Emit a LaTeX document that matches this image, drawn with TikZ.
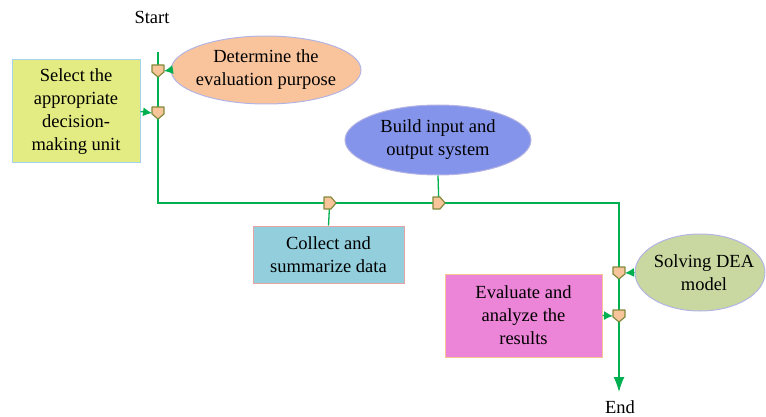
\documentclass[tikz,border=0pt]{standalone}
\usepackage{fontspec}
\setmainfont{Liberation Serif}
\usetikzlibrary{shapes.geometric,arrows.meta}
\definecolor{lineg}{HTML}{00B050}
\definecolor{mfill}{HTML}{F8C49A}
\definecolor{mdraw}{HTML}{7F8A3C}
\definecolor{peach}{HTML}{F9C49C}
\definecolor{lav}{HTML}{B4B4E4}
\definecolor{yel}{HTML}{E3EC82}
\definecolor{lblue}{HTML}{A4D4EC}
\definecolor{blu}{HTML}{8494EA}
\definecolor{cyan2}{HTML}{92CEDC}
\definecolor{pinkb}{HTML}{E4A4A4}
\definecolor{olive2}{HTML}{C8D8A0}
\definecolor{mag}{HTML}{EC84D8}
\definecolor{orb}{HTML}{F8C494}
\tikzset{
  txt/.style={font=\fontsize{18.5}{23}\selectfont, align=center, inner sep=0pt},
  ell/.style={ellipse, draw=lav, line width=1pt, inner sep=0pt},
  boxn/.style={rectangle, line width=1pt, txt},
  pm/.style={draw=mdraw, fill=mfill, line width=1.2pt, line join=round},
  flow/.style={draw=lineg, line width=1.3pt},
  arr/.style={draw=lineg, line width=1.3pt, -{Latex[length=9pt,width=9pt]}},
  endarr/.style={draw=lineg, line width=1.3pt, -{Latex[length=15pt,width=11pt]}}
}
\newcommand{\pmdown}[1]{\draw[pm] ([shift={(-6,-6)}]#1) -- ++(12,0) -- ++(0,7) -- ++(-6,5) -- ++(-6,-5) -- cycle;}
\newcommand{\pmright}[1]{\draw[pm] ([shift={(-6,-6)}]#1) -- ++(7,0) -- ++(5,6) -- ++(-5,6) -- ++(-7,0) -- cycle;}
\begin{document}
\begin{tikzpicture}[x=1pt,y=-1pt]
\useasboundingbox (0,0) rectangle (766,417);
\node[txt] (start) at (152,17) {Start};
\node[txt] (end) at (620,407) {End};
% nodes
\node[ell, fill=peach, minimum width=190pt, minimum height=68pt] (purpose) at (266,70) {};
\node[txt] (purposet) at (purpose) {Determine the\\evaluation purpose};
\node[boxn, draw=lblue, fill=yel, minimum width=128pt, minimum height=103pt] (dmu) at (76,111.5) {Select the\\appropriate\\decision-\\making unit};
\node[ell, fill=blu, minimum width=186pt, minimum height=70pt] (build) at (438,140) {};
\node[txt] (buildt) at (build) {Build input and\\output system};
\node[boxn, draw=pinkb, fill=cyan2, minimum width=151pt, minimum height=57pt] (collect) at (328.5,254.5) {Collect and\\summarize data};
\node[ell, fill=olive2, minimum width=130pt, minimum height=77pt] (dea) at (700,272.5) {};
\node[txt] (deat) at (704,272.5) {Solving DEA\\model};
\node[boxn, draw=orb, fill=mag, minimum width=157pt, minimum height=83pt] (eval) at (523.5,315.5) {Evaluate and\\analyze the\\results};
% main line coordinates
\coordinate (top) at (158,52);
\coordinate (m1) at (158,71);
\coordinate (m2) at (158,113);
\coordinate (c1) at (158,203);
\coordinate (m3) at (330,203);
\coordinate (m4) at (439,203);
\coordinate (c2) at (619,203);
\coordinate (m5) at (619,273);
\coordinate (m6) at (619,316);
\coordinate (bot) at (619,392);
\draw[flow] (top) -- (c1) -- (c2) -- (m6);
\draw[endarr] (m6) -- (bot);
% side arrows
\draw[arr] (purpose.west) -- ([xshift=6pt]m1);
\draw[arr] (dmu.east) -- ([xshift=-6pt]m2);
\draw[arr] (build.south) -- ([yshift=-6pt]m4);
\draw[arr] (collect.north) -- ([yshift=6pt]m3);
\draw[arr] (dea.west) -- ([xshift=6pt]m5);
\draw[arr] (eval.east) -- ([xshift=-6pt]m6);
% markers
\pmdown{m1}
\pmdown{m2}
\pmright{m3}
\pmright{m4}
\pmdown{m5}
\pmdown{m6}
\end{tikzpicture}
\end{document}
